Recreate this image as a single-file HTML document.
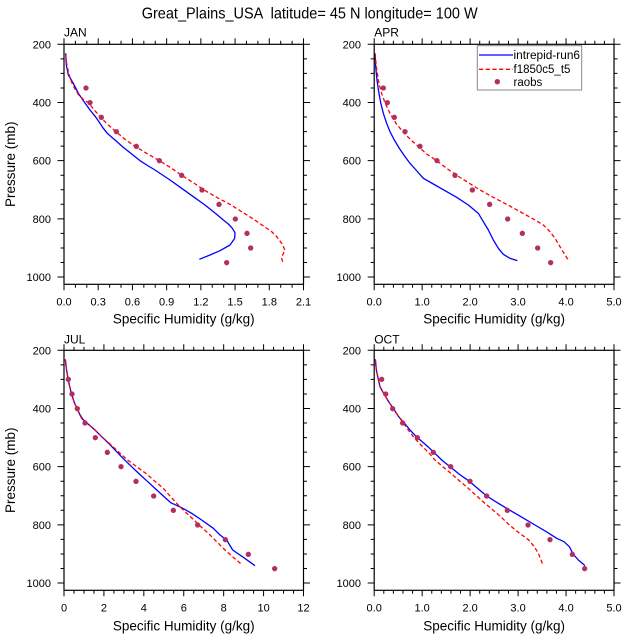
<!DOCTYPE html>
<html>
<head>
<meta charset="utf-8">
<style>
html,body{margin:0;padding:0;background:#fff;}
svg{display:block;}
text{font-family:"Liberation Sans",Arial,sans-serif;fill:#000;}
</style>
</head>
<body>
<svg width="627" height="640" viewBox="0 0 627 640" xmlns="http://www.w3.org/2000/svg">
<defs>
<g id="yt" stroke="#000" stroke-width="1" fill="none">
<path d="M0,0h-6.5M0,58.18h-6.5M0,116.36h-6.5M0,174.55h-6.5M0,232.73h-6.5"/>
<path d="M0,14.55h-3.5M0,29.09h-3.5M0,43.64h-3.5M0,72.73h-3.5M0,87.27h-3.5M0,101.82h-3.5M0,130.91h-3.5M0,145.45h-3.5M0,160h-3.5M0,189.09h-3.5M0,203.64h-3.5M0,218.18h-3.5"/>
</g>
<g id="xtJ" stroke="#000" stroke-width="1" fill="none">
<path d="M0,0v6M34.21,0v6M68.43,0v6M102.64,0v6M136.86,0v6M171.07,0v6M205.29,0v6M239.5,0v6"/>
<path d="M11.41,0v3.5M22.81,0v3.5M45.62,0v3.5M57.02,0v3.5M79.83,0v3.5M91.24,0v3.5M114.05,0v3.5M125.45,0v3.5M148.26,0v3.5M159.67,0v3.5M182.48,0v3.5M193.88,0v3.5M216.69,0v3.5M228.1,0v3.5"/>
</g>
<g id="xtA" stroke="#000" stroke-width="1" fill="none">
<path d="M0,0v6M47.96,0v6M95.92,0v6M143.88,0v6M191.84,0v6M239.8,0v6"/>
<path d="M9.59,0v3.5M19.18,0v3.5M28.78,0v3.5M38.37,0v3.5M57.55,0v3.5M67.14,0v3.5M76.74,0v3.5M86.33,0v3.5M105.51,0v3.5M115.1,0v3.5M124.7,0v3.5M134.29,0v3.5M153.47,0v3.5M163.06,0v3.5M172.66,0v3.5M182.25,0v3.5M201.43,0v3.5M211.02,0v3.5M220.62,0v3.5M230.21,0v3.5"/>
</g>
<g id="xtU" stroke="#000" stroke-width="1" fill="none">
<path d="M0,0v6M39.92,0v6M79.83,0v6M119.75,0v6M159.67,0v6M199.58,0v6M239.5,0v6"/>
<path d="M9.98,0v3.5M19.96,0v3.5M29.94,0v3.5M49.9,0v3.5M59.88,0v3.5M69.85,0v3.5M89.81,0v3.5M99.79,0v3.5M109.77,0v3.5M129.73,0v3.5M139.71,0v3.5M149.69,0v3.5M169.65,0v3.5M179.63,0v3.5M189.6,0v3.5M209.56,0v3.5M219.54,0v3.5M229.52,0v3.5"/>
</g>
</defs>

<!-- Title -->
<text x="309.7" y="18.5" font-size="16" text-anchor="middle" textLength="336" lengthAdjust="spacingAndGlyphs" style="white-space:pre">Great_Plains_USA  latitude= 45 N longitude= 100 W</text>

<!-- ============ JAN ============ -->
<text x="64" y="36.5" font-size="12">JAN</text>
<use href="#yt" transform="translate(64,44.3)"/>
<use href="#yt" transform="translate(303.5,44.3) scale(-1,1)"/>
<use href="#xtJ" transform="translate(64,284.3)"/>
<use href="#xtJ" transform="translate(64,44.3) scale(1,-1)"/>
<g font-size="11" text-anchor="end">
<text x="51" y="48.3">200</text><text x="51" y="106.5">400</text><text x="51" y="164.7">600</text><text x="51" y="222.9">800</text><text x="51" y="281">1000</text>
</g>
<g font-size="11" text-anchor="middle">
<text x="64" y="305.5">0.0</text><text x="98.21" y="305.5">0.3</text><text x="132.43" y="305.5">0.6</text><text x="166.64" y="305.5">0.9</text><text x="200.86" y="305.5">1.2</text><text x="235.07" y="305.5">1.5</text><text x="269.29" y="305.5">1.8</text><text x="303.5" y="305.5">2.1</text>
</g>
<text x="183.75" y="323.5" font-size="13.5" text-anchor="middle">Specific Humidity (g/kg)</text>
<text transform="translate(15,164.3) rotate(-90)" font-size="13.5" text-anchor="middle">Pressure (mb)</text>
<g transform="scale(0.333333)">
<polyline fill="none" stroke="#0000ff" stroke-width="3.9" stroke-linejoin="round" points="197,160 199,195 205,225 220,250 235,280 252,305 270,330 290,355 310,385 322,400 345,420 370,442 395,462 420,482 445,498 465,510 510,540 545,565 580,590 615,615 650,643 670,660 685,672 697,685 705,698 704,715 690,735 660,752 630,765 598,778"/>
<polyline fill="none" stroke="#ff0000" stroke-width="3.9" stroke-dasharray="12,7.5" points="197,165 200,190 205,215 212,240 222,262 236,285 250,298 265,308 283,330 302,352 325,375 348,395 375,418 405,439 440,460 478,482 515,505 545,526 580,548 612,570 650,592 690,613 725,635 760,657 790,678 815,695 830,710 845,730 855,750 848,765 845,775 848,785"/>
<g fill="#b03060">
<circle cx="258" cy="264" r="8"/><circle cx="270" cy="308" r="8"/><circle cx="304" cy="352" r="8"/><circle cx="349" cy="395" r="8"/><circle cx="409" cy="439" r="8"/><circle cx="478" cy="482" r="8"/><circle cx="545" cy="526" r="8"/><circle cx="606" cy="570" r="8"/><circle cx="657" cy="613" r="8"/><circle cx="706" cy="657" r="8"/><circle cx="741" cy="700" r="8"/><circle cx="752" cy="744" r="8"/><circle cx="680" cy="788" r="8"/>
</g>
</g>
<rect x="64" y="44.3" width="239.5" height="240" fill="none" stroke="#000" stroke-width="1.2"/>

<!-- ============ APR ============ -->
<text x="374.2" y="36.5" font-size="12">APR</text>
<use href="#yt" transform="translate(374.2,44.3)"/>
<use href="#yt" transform="translate(614,44.3) scale(-1,1)"/>
<use href="#xtA" transform="translate(374.2,284.3)"/>
<use href="#xtA" transform="translate(374.2,44.3) scale(1,-1)"/>
<g font-size="11" text-anchor="end">
<text x="361" y="48.3">200</text><text x="361" y="106.5">400</text><text x="361" y="164.7">600</text><text x="361" y="222.9">800</text><text x="361" y="281">1000</text>
</g>
<g font-size="11" text-anchor="middle">
<text x="374.2" y="305.5">0.0</text><text x="422.16" y="305.5">1.0</text><text x="470.12" y="305.5">2.0</text><text x="518.08" y="305.5">3.0</text><text x="566.04" y="305.5">4.0</text><text x="614" y="305.5">5.0</text>
</g>
<text x="494.1" y="323.5" font-size="13.5" text-anchor="middle">Specific Humidity (g/kg)</text>
<g transform="translate(310,0) scale(0.333333)">
<polyline fill="none" stroke="#0000ff" stroke-width="3.9" stroke-linejoin="round" points="195,160 197,200 201,240 206,275 212,308 220,340 230,370 240,395 253,420 268,445 285,470 300,490 318,510 340,535 370,552 405,572 440,592 475,615 505,640 520,665 535,690 550,720 565,745 580,763 600,775 622,782"/>
<polyline fill="none" stroke="#ff0000" stroke-width="3.9" stroke-dasharray="12,7.5" points="195,160 199,200 205,240 213,275 225,308 240,340 258,370 280,397 303,420 325,440 350,462 380,482 410,505 440,526 475,548 510,570 550,592 590,613 630,635 670,657 700,675 720,695 735,715 750,740 762,760 775,780"/>
<g fill="#b03060">
<circle cx="220" cy="264" r="8"/><circle cx="232" cy="308" r="8"/><circle cx="253" cy="352" r="8"/><circle cx="285" cy="395" r="8"/><circle cx="330" cy="439" r="8"/><circle cx="381" cy="482" r="8"/><circle cx="435" cy="526" r="8"/><circle cx="487" cy="570" r="8"/><circle cx="539" cy="613" r="8"/><circle cx="593" cy="657" r="8"/><circle cx="637" cy="700" r="8"/><circle cx="683" cy="744" r="8"/><circle cx="722" cy="788" r="8"/>
</g>
</g>
<rect x="374.2" y="44.3" width="239.8" height="240" fill="none" stroke="#000" stroke-width="1.2"/>
<!-- Legend -->
<rect x="477.3" y="45.7" width="104.4" height="44.3" fill="#fff" stroke="#888" stroke-width="1"/>
<line x1="479" y1="55" x2="513" y2="55" stroke="#0000ff" stroke-width="1.3"/>
<line x1="479" y1="69.3" x2="513" y2="69.3" stroke="#ff0000" stroke-width="1.3" stroke-dasharray="4.2,2.5"/>
<circle cx="497.3" cy="81.7" r="2.7" fill="#b03060"/>
<g font-size="11.5">
<text x="513.5" y="59.2" textLength="66.5" lengthAdjust="spacingAndGlyphs">intrepid-run6</text>
<text x="513.5" y="72.8">f1850c5_t5</text>
<text x="513.5" y="86">raobs</text>
</g>

<!-- ============ JUL ============ -->
<text x="64" y="343.3" font-size="12">JUL</text>
<use href="#yt" transform="translate(64,350.3)"/>
<use href="#yt" transform="translate(303.5,350.3) scale(-1,1)"/>
<use href="#xtU" transform="translate(64,590.3)"/>
<use href="#xtU" transform="translate(64,350.3) scale(1,-1)"/>
<g font-size="11" text-anchor="end">
<text x="51" y="354.3">200</text><text x="51" y="412.5">400</text><text x="51" y="470.7">600</text><text x="51" y="528.9">800</text><text x="51" y="587">1000</text>
</g>
<g font-size="11" text-anchor="middle">
<text x="64" y="611.5">0</text><text x="103.92" y="611.5">2</text><text x="143.83" y="611.5">4</text><text x="183.75" y="611.5">6</text><text x="223.67" y="611.5">8</text><text x="263.58" y="611.5">10</text><text x="303.5" y="611.5">12</text>
</g>
<text x="183.75" y="630.4" font-size="13.5" text-anchor="middle">Specific Humidity (g/kg)</text>
<text transform="translate(15,470.3) rotate(-90)" font-size="13.5" text-anchor="middle">Pressure (mb)</text>
<g transform="translate(0,320) scale(0.333333)">
<polyline fill="none" stroke="#0000ff" stroke-width="3.9" stroke-linejoin="round" points="196,118 199,145 203,170 208,195 214,220 222,245 232,268 245,295 262,310 285,330 305,350 328,372 350,395 372,418 395,440 418,462 442,484 465,505 490,528 512,548 545,563 575,580 605,600 640,625 660,645 680,660 698,690 730,712 765,737"/>
<polyline fill="none" stroke="#ff0000" stroke-width="3.9" stroke-dasharray="12,7.5" points="196,118 199,145 203,170 208,195 214,220 222,245 232,268 245,292 262,310 285,330 305,350 330,372 355,395 380,418 410,440 440,462 465,484 490,505 510,528 530,550 555,575 580,598 600,618 625,640 650,665 675,690 700,712 727,735"/>
<g fill="#b03060">
<circle cx="205" cy="178" r="8"/><circle cx="216" cy="222" r="8"/><circle cx="232" cy="266" r="8"/><circle cx="255" cy="309" r="8"/><circle cx="286" cy="353" r="8"/><circle cx="322" cy="397" r="8"/><circle cx="363" cy="440" r="8"/><circle cx="408" cy="484" r="8"/><circle cx="461" cy="528" r="8"/><circle cx="520" cy="571" r="8"/><circle cx="593" cy="615" r="8"/><circle cx="676" cy="659" r="8"/><circle cx="745" cy="703" r="8"/><circle cx="824" cy="746" r="8"/>
</g>
</g>
<rect x="64" y="350.3" width="239.5" height="240" fill="none" stroke="#000" stroke-width="1.2"/>

<!-- ============ OCT ============ -->
<text x="374.2" y="343.3" font-size="12">OCT</text>
<use href="#yt" transform="translate(374.2,350.3)"/>
<use href="#yt" transform="translate(614,350.3) scale(-1,1)"/>
<use href="#xtA" transform="translate(374.2,590.3)"/>
<use href="#xtA" transform="translate(374.2,350.3) scale(1,-1)"/>
<g font-size="11" text-anchor="end">
<text x="361" y="354.3">200</text><text x="361" y="412.5">400</text><text x="361" y="470.7">600</text><text x="361" y="528.9">800</text><text x="361" y="587">1000</text>
</g>
<g font-size="11" text-anchor="middle">
<text x="374.2" y="611.5">0.0</text><text x="422.16" y="611.5">1.0</text><text x="470.12" y="611.5">2.0</text><text x="518.08" y="611.5">3.0</text><text x="566.04" y="611.5">4.0</text><text x="614" y="611.5">5.0</text>
</g>
<text x="494.1" y="630.4" font-size="13.5" text-anchor="middle">Specific Humidity (g/kg)</text>
<g transform="translate(310,320) scale(0.333333)">
<polyline fill="none" stroke="#0000ff" stroke-width="3.9" stroke-linejoin="round" points="196,118 199,150 205,178 210,200 222,222 236,245 250,266 266,290 283,309 300,330 322,353 348,375 372,397 395,420 420,440 447,462 478,484 503,505 530,528 565,550 600,571 638,593 675,615 712,637 740,655 762,665 778,680 790,703 805,720 825,737"/>
<polyline fill="none" stroke="#ff0000" stroke-width="3.9" stroke-dasharray="12,7.5" points="196,118 199,150 205,178 210,200 222,222 236,245 250,266 266,290 280,309 295,330 312,353 333,375 355,397 375,420 398,440 425,462 450,484 475,505 500,528 525,550 550,571 575,593 598,615 625,637 655,659 673,680 685,700 693,720 700,737"/>
<g fill="#b03060">
<circle cx="215" cy="178" r="8"/><circle cx="227" cy="222" r="8"/><circle cx="248" cy="266" r="8"/><circle cx="278" cy="309" r="8"/><circle cx="322" cy="353" r="8"/><circle cx="370" cy="397" r="8"/><circle cx="422" cy="440" r="8"/><circle cx="480" cy="484" r="8"/><circle cx="530" cy="528" r="8"/><circle cx="592" cy="571" r="8"/><circle cx="654" cy="615" r="8"/><circle cx="720" cy="659" r="8"/><circle cx="787" cy="703" r="8"/><circle cx="824" cy="746" r="8"/>
</g>
</g>
<rect x="374.2" y="350.3" width="239.8" height="240" fill="none" stroke="#000" stroke-width="1.2"/>
</svg>
</body>
</html>
